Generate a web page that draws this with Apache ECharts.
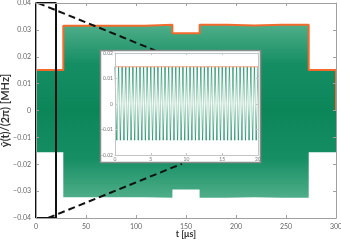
<!DOCTYPE html>
<html><head><meta charset="utf-8">
<script src="https://cdn.jsdelivr.net/npm/echarts@6/dist/echarts.min.js"></script>
<style>html,body{margin:0;padding:0;background:#fff}#c{width:341px;height:241px}</style>
</head><body><div id="c"></div>
<script>
// ---- data ----
const segEdges = [0, 27.3, 54.5, 81.8, 109.1, 136.4, 163.6, 190.9, 218.2, 245.5, 272.7, 300];
const upperEnv = [0.0151, 0.0315, 0.0315, 0.0315, 0.0319, 0.0287, 0.0319, 0.0316, 0.0319, 0.0319, 0.0151];
const lowerEnv = [-0.0155, -0.0323, -0.0323, -0.0323, -0.0325, -0.0294, -0.0325, -0.0323, -0.0325, -0.0325, -0.0155];
const xTicks = [0, 50, 100, 150, 200, 250, 300];
const yTicks = [-0.04, -0.03, -0.02, -0.01, 0, 0.01, 0.02, 0.03, 0.04];
// zoom box (t range, y range)
const zoomBoxT = [0, 20];
const zoomBoxY = [-0.04, 0.04];
// connector lines (data coords on main axes)
const connUpper = [[2, 0.04], [134, 0.0201]];
const connLower = [[12, -0.04], [146, -0.0198]];
// inset signal samples (t in us, value in MHz)
const insetT = [0,0.25,0.5,0.75,1,1.25,1.5,1.75,2,2.25,2.5,2.75,3,3.25,3.5,3.75,4,4.25,4.5,4.75,5,5.25,5.5,5.75,6,6.25,6.5,6.75,7,7.25,7.5,7.75,8,8.25,8.5,8.75,9,9.25,9.5,9.75,10,10.25,10.5,10.75,11,11.25,11.5,11.75,12,12.25,12.5,12.75,13,13.25,13.5,13.75,14,14.25,14.5,14.75,15,15.25,15.5,15.75,16,16.25,16.5,16.75,17,17.25,17.5,17.75,18,18.25,18.5,18.75,19,19.25,19.5,19.75,20];
const insetV = [0.0146,-0.0142,0.0146,-0.0142,0.0146,-0.0142,0.0146,-0.0142,0.0146,-0.0142,0.0146,-0.0142,0.0146,-0.0142,0.0146,-0.0142,0.0146,-0.0142,0.0146,-0.0142,0.0146,-0.0142,0.0146,-0.0142,0.0146,-0.0142,0.0146,-0.0142,0.0146,-0.0142,0.0146,-0.0142,0.0146,-0.0142,0.0146,-0.0142,0.0146,-0.0142,0.0146,-0.0142,0.0146,-0.0142,0.0146,-0.0142,0.0146,-0.0142,0.0146,-0.0142,0.0146,-0.0142,0.0146,-0.0142,0.0146,-0.0142,0.0146,-0.0142,0.0146,-0.0142,0.0146,-0.0142,0.0146,-0.0142,0.0146,-0.0142,0.0146,-0.0142,0.0146,-0.0142,0.0146,-0.0142,0.0146,-0.0142,0.0146,-0.0142,0.0146,-0.0142,0.0146,-0.0142,0.0146,-0.0142,0.0146];
const insetEnvelope = 0.0146;
const insetXTicks = [0, 5, 10, 15, 20];
const insetYTicks = [-0.02, -0.01, 0, 0.01, 0.02];

// ---- build helpers ----
function stepPts(vals, closeToZero) {
  const pts = [];
  if (closeToZero) pts.push([segEdges[0], 0]);
  for (let i = 0; i < vals.length; i++) {
    pts.push([segEdges[i], vals[i]]);
    pts.push([segEdges[i + 1], vals[i]]);
  }
  if (closeToZero) pts.push([segEdges[segEdges.length - 1], 0]);
  return pts;
}
function fmtY(v) {
  const r = Math.round(v * 100) / 100;
  if (r === 0) return '0';
  return (r < 0 ? '\u2212' : '') + Math.abs(r).toFixed(2);
}
function fmtYs(v) {
  const r = Math.round(v * 100) / 100;
  if (r === 0) return '0';
  return (r < 0 ? '-' : '') + Math.abs(r).toFixed(2);
}

const FONT = 'Lato';
const chart = echarts.init(document.getElementById('c'), null, { renderer: 'canvas' });

// green band gradient: the filled shape spans from max(upperEnv) down to the axis minimum
const yMin = yTicks[0];
const uMax = Math.max.apply(null, upperEnv);
const lMin = Math.min.apply(null, lowerEnv);
const off = v => Math.min(1, Math.max(0, (uMax - v) / (uMax - yMin)));
const bandGrad = new echarts.graphic.LinearGradient(0, 0, 0, 1, [
  { offset: 0, color: '#4fae89' },
  { offset: off(uMax * 0.55), color: '#168e64' },
  { offset: off(0), color: '#0b8659' },
  { offset: off(lMin * 0.55), color: '#168e64' },
  { offset: off(lMin), color: '#4fae89' },
  { offset: 1, color: '#4fae89' }
]);
const grad3 = (c0, c1, c2) => new echarts.graphic.LinearGradient(0, 0, 0, 1, [
  { offset: 0, color: c0 }, { offset: 0.5, color: c1 }, { offset: 1, color: c2 }]);

const mainAxisCommon = {
  axisLine: { show: true, onZero: false, lineStyle: { color: '#a0a0a0', width: 1 } },
  axisTick: { show: true, inside: true, length: 3, lineStyle: { color: '#a0a0a0' } },
  splitLine: { show: false },
  nameMoveOverlap: false,
  z: 10
};
const insetAxisCommon = {
  axisLine: { show: true, onZero: false, lineStyle: { color: '#c4c4c4', width: 1 } },
  axisTick: { show: true, inside: true, length: 2, lineStyle: { color: '#c4c4c4' } },
  splitLine: { show: false },
  z: 62
};

const option = {
  animation: false,
  backgroundColor: '#fff',
  grid: [
    { left: 36, right: 5, top: 3, bottom: 23, outerBoundsMode: 'none', containLabel: false },
    { left: 115, right: 83, top: 53, bottom: 86, outerBoundsMode: 'none', containLabel: false }
  ],
  xAxis: [
    Object.assign({}, mainAxisCommon, {
      gridIndex: 0, type: 'value', min: xTicks[0], max: xTicks[xTicks.length - 1], interval: 50,
      name: 't [\u03bcs]', nameLocation: 'middle', nameGap: 12,
      nameTextStyle: { fontFamily: FONT, fontWeight: 'bold', fontSize: 9, color: '#333' },
      axisLabel: { fontFamily: FONT, fontSize: 7, color: '#666', margin: 5 }
    }),
    Object.assign({}, mainAxisCommon, {
      gridIndex: 0, type: 'value', position: 'top', min: 0, max: 300, interval: 50,
      axisLabel: { show: false }
    }),
    Object.assign({}, insetAxisCommon, {
      gridIndex: 1, type: 'value', min: insetXTicks[0], max: insetXTicks[insetXTicks.length - 1], interval: 5,
      axisLabel: { fontFamily: FONT, fontSize: 5, color: '#777', margin: 2 }
    }),
    Object.assign({}, insetAxisCommon, {
      gridIndex: 1, type: 'value', position: 'top', min: 0, max: 20, interval: 5,
      axisLabel: { show: false }
    })
  ],
  yAxis: [
    Object.assign({}, mainAxisCommon, {
      gridIndex: 0, type: 'value', min: yTicks[0], max: yTicks[yTicks.length - 1], interval: 0.01,
      name: '\u0177(t)/(2\u03c0) [MHz]', nameLocation: 'middle', nameGap: 25, nameRotate: 90,
      nameTextStyle: { fontFamily: FONT, fontWeight: 'bold', fontSize: 11, color: '#333' },
      axisLabel: { fontFamily: FONT, fontSize: 7, color: '#666', margin: 5, formatter: fmtY }
    }),
    Object.assign({}, mainAxisCommon, {
      gridIndex: 0, type: 'value', position: 'right', min: -0.04, max: 0.04, interval: 0.01,
      axisLabel: { show: false }
    }),
    Object.assign({}, insetAxisCommon, {
      gridIndex: 1, type: 'value', min: insetYTicks[0], max: insetYTicks[insetYTicks.length - 1], interval: 0.01,
      axisLabel: { fontFamily: FONT, fontSize: 5, color: '#777', margin: 2, formatter: fmtYs }
    }),
    Object.assign({}, insetAxisCommon, {
      gridIndex: 1, type: 'value', position: 'right', min: -0.02, max: 0.02, interval: 0.01,
      axisLabel: { show: false }
    })
  ],
  graphic: [
    { type: 'rect', z: 50, shape: { x: 100.5, y: 50.5, width: 160, height: 112 },
      style: { fill: '#fff', stroke: '#8a8a8a', lineWidth: 1.5 } }
  ],
  series: [
    // green band: fill from the axis bottom up to the upper envelope ...
    { type: 'line', xAxisIndex: 0, yAxisIndex: 0, data: stepPts(upperEnv, false), symbol: 'none',
      lineStyle: { width: 0 }, z: 2,
      areaStyle: { opacity: 1, origin: 'start', color: bandGrad } },
    // ... then blank out everything below the lower envelope
    { type: 'line', xAxisIndex: 0, yAxisIndex: 0, data: stepPts(lowerEnv, false), symbol: 'none',
      lineStyle: { width: 0 }, z: 2,
      areaStyle: { opacity: 1, origin: 'start', color: '#ffffff' } },
    { type: 'line', xAxisIndex: 0, yAxisIndex: 0, data: stepPts(upperEnv, true), symbol: 'none',
      lineStyle: { width: 2, color: '#f26b2c' }, z: 3 },
    { type: 'line', xAxisIndex: 0, yAxisIndex: 0, symbol: 'none', z: 5,
      data: [[zoomBoxT[0], zoomBoxY[0]], [zoomBoxT[0], zoomBoxY[1]], [zoomBoxT[1], zoomBoxY[1]], [zoomBoxT[1], zoomBoxY[0]], [zoomBoxT[0], zoomBoxY[0]]],
      lineStyle: { width: 2, color: '#111' } },
    { type: 'line', xAxisIndex: 0, yAxisIndex: 0, symbol: 'none', z: 4, data: connUpper,
      lineStyle: { width: 2, color: '#111', type: [7, 4] } },
    { type: 'line', xAxisIndex: 0, yAxisIndex: 0, symbol: 'none', z: 4, data: connLower,
      lineStyle: { width: 2, color: '#111', type: [7, 4] } },
    { type: 'line', xAxisIndex: 2, yAxisIndex: 2, symbol: 'none', z: 60,
      data: insetT.map((t, i) => [t, insetV[i]]),
      lineStyle: { width: 1, color: grad3('#1f9468', '#bfe0d1', '#1f9468') } },
    { type: 'line', xAxisIndex: 2, yAxisIndex: 2, symbol: 'none', z: 61,
      data: [[insetXTicks[0], insetEnvelope], [insetXTicks[insetXTicks.length - 1], insetEnvelope]],
      lineStyle: { width: 1, color: '#f2a07c' } }
  ]
};
chart.setOption(option);
</script></body></html>
